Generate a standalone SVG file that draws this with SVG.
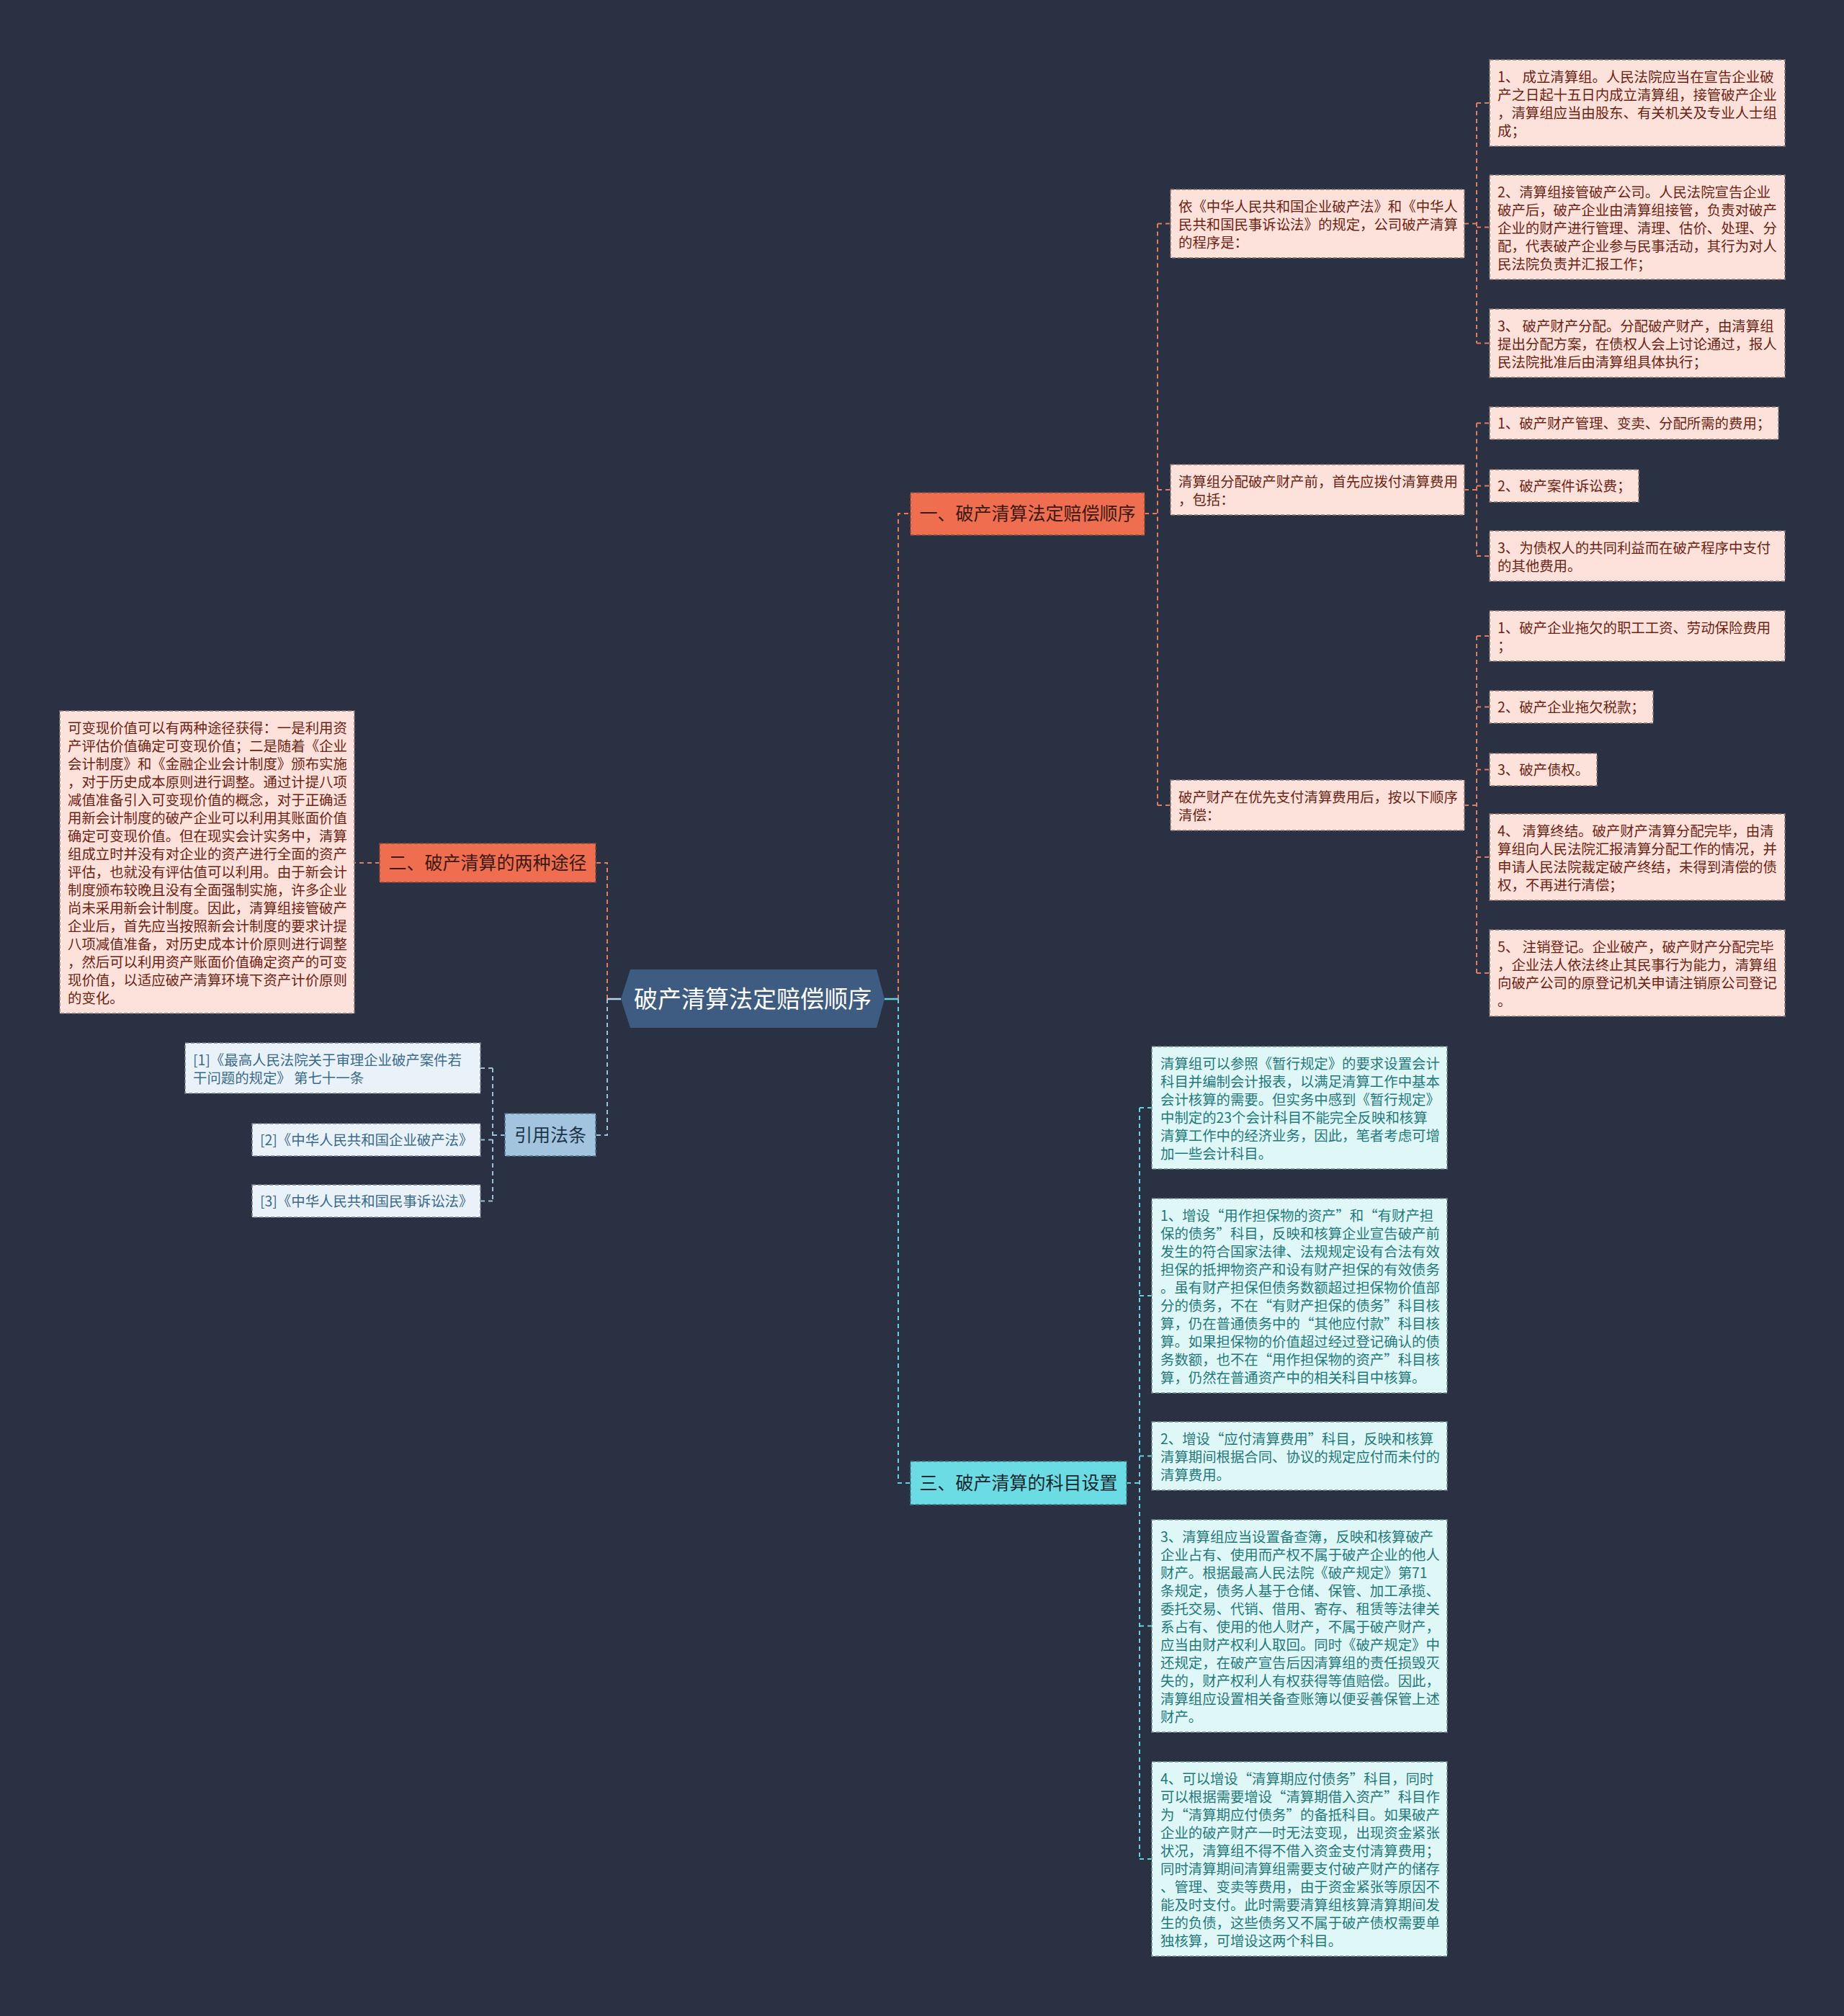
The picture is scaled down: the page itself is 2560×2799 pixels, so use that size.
<svg xmlns="http://www.w3.org/2000/svg" width="2560" height="2799" viewBox="0 0 2560 2799">
<style>
text{font-family:"Noto Sans CJK SC","Noto Sans",sans-serif}
.l{font-size:19.4px}
.pk{fill:#fde2dc;stroke:#8c7672;stroke-width:1.5;stroke-dasharray:5 3}
.cy{fill:#e0f7f8;stroke:#6f8a8c;stroke-width:1.5;stroke-dasharray:5 3}
.ct{fill:#e9f2f8;stroke:#77848e;stroke-width:1.5;stroke-dasharray:5 3}
.tp{fill:#6f2212}
.tc{fill:#1f7a7b}
.tb{fill:#3a6a8e}
.br{font-size:25px;text-anchor:middle}
.co{fill:none;stroke:#e57a5f;stroke-width:2;stroke-dasharray:6 5}
.cc{fill:none;stroke:#62d3dd;stroke-width:2;stroke-dasharray:6 5}
.cb{fill:none;stroke:#9cc0dc;stroke-width:2;stroke-dasharray:6 5}
</style>
<rect width="2560" height="2799" fill="#2a3142"/>
<g id="connectors">
<path class="co" d="M1247 1387V713H1264M1589 713H1607M1607 310.5V1118M1607 310.5H1625M1607 680H1625M1607 1118H1625"/>
<path class="co" d="M2033 310.5H2050M2050 143V476.5M2050 143H2068M2050 315.5H2068M2050 476.5H2068"/>
<path class="co" d="M2033 680H2050M2050 587.5V772M2050 587.5H2068M2050 674.5H2068M2050 772H2068"/>
<path class="co" d="M2033 1118H2050M2050 883V1351M2050 883H2068M2050 981.5H2068M2050 1068.5H2068M2050 1190H2068M2050 1351H2068"/>
<path class="cc" d="M1247 1387V2059H1264M1564 2059H1582M1582 1538V2581M1582 1538H1599M1582 1799H1599M1582 2021.5H1599M1582 2257.5H1599M1582 2581H1599"/>
<path class="co" d="M843 1387V1198H827M527 1198H492"/>
<path class="cb" d="M843 1387V1576H827M701 1576H684M684 1483V1667.5M684 1483H667M684 1582.5H667M684 1667.5H667"/>
<path d="M862 1387H843" stroke="#b8d2e6" stroke-width="2.5"/>
<path d="M1228 1387H1247" stroke="#62d3dd" stroke-width="2.5"/>
</g>
<g id="root">
<polygon points="862,1387 875,1346 1217,1346 1228,1387 1217,1427 875,1427" fill="#3e5b82"/>
<text x="1045" y="1399" font-size="33" fill="#ffffff" text-anchor="middle">破产清算法定赔偿顺序</text>
</g>
<g id="b1">
<rect x="1264" y="684" width="325" height="59" fill="#ef6e50" stroke="#8a4a3a" stroke-width="1.5" stroke-dasharray="5 3"/>
<text class="br" x="1426.5" y="722" fill="#3a1a12">一、破产清算法定赔偿顺序</text>
</g>
<g id="b2">
<rect x="527" y="1171" width="300" height="54" fill="#ef6e50" stroke="#8a4a3a" stroke-width="1.5" stroke-dasharray="5 3"/>
<text class="br" x="677" y="1207" fill="#3a1a12">二、破产清算的两种途径</text>
</g>
<g id="b3">
<rect x="1264" y="2029" width="300" height="60" fill="#6cdce4" stroke="#3f7e86" stroke-width="1.5" stroke-dasharray="5 3"/>
<text class="br" x="1414" y="2068" fill="#15282e">三、破产清算的科目设置</text>
</g>
<g id="b4">
<rect x="701" y="1546" width="126" height="59" fill="#a3c4de" stroke="#56728a" stroke-width="1.5" stroke-dasharray="5 3"/>
<text class="br" x="764" y="1585" fill="#1e3548">引用法条</text>
</g>
<g id="s1">
<rect class="pk" x="1625" y="263" width="408" height="95"/>
<text class="l tp" x="1636" y="294"><tspan x="1636">依《中华人民共和国企业破产法》和《中华人</tspan><tspan x="1636" dy="25">民共和国民事诉讼法》的规定，公司破产清算</tspan><tspan x="1636" dy="25">的程序是：</tspan></text>
</g>
<g id="s2">
<rect class="pk" x="1625" y="645" width="408" height="70"/>
<text class="l tp" x="1636" y="676"><tspan x="1636">清算组分配破产财产前，首先应拨付清算费用</tspan><tspan x="1636" dy="25">，包括：</tspan></text>
</g>
<g id="s3">
<rect class="pk" x="1625" y="1083" width="408" height="70"/>
<text class="l tp" x="1636" y="1114"><tspan x="1636">破产财产在优先支付清算费用后，按以下顺序</tspan><tspan x="1636" dy="25">清偿：</tspan></text>
</g>
<g id="l1">
<rect class="pk" x="2068" y="83" width="410" height="120"/>
<text class="l tp" y="114"><tspan x="2079">1、 成立清算组。人民法院应当在宣告企业破</tspan><tspan x="2079" dy="25">产之日起十五日内成立清算组，接管破产企业</tspan><tspan x="2079" dy="25">，清算组应当由股东、有关机关及专业人士组</tspan><tspan x="2079" dy="25">成；</tspan></text>
</g>
<g id="l2">
<rect class="pk" x="2068" y="243" width="410" height="145"/>
<text class="l tp" y="274"><tspan x="2079">2、清算组接管破产公司。人民法院宣告企业</tspan><tspan x="2079" dy="25">破产后，破产企业由清算组接管，负责对破产</tspan><tspan x="2079" dy="25">企业的财产进行管理、清理、估价、处理、分</tspan><tspan x="2079" dy="25">配，代表破产企业参与民事活动，其行为对人</tspan><tspan x="2079" dy="25">民法院负责并汇报工作；</tspan></text>
</g>
<g id="l3">
<rect class="pk" x="2068" y="429" width="410" height="95"/>
<text class="l tp" y="460"><tspan x="2079">3、 破产财产分配。分配破产财产，由清算组</tspan><tspan x="2079" dy="25">提出分配方案，在债权人会上讨论通过，报人</tspan><tspan x="2079" dy="25">民法院批准后由清算组具体执行；</tspan></text>
</g>
<g id="l4">
<rect class="pk" x="2068" y="565" width="401" height="45"/>
<text class="l tp" x="2079" y="595">1、破产财产管理、变卖、分配所需的费用；</text>
</g>
<g id="l5">
<rect class="pk" x="2068" y="652" width="207" height="45"/>
<text class="l tp" x="2079" y="682">2、破产案件诉讼费；</text>
</g>
<g id="l6">
<rect class="pk" x="2068" y="737" width="410" height="70"/>
<text class="l tp" y="768"><tspan x="2079">3、为债权人的共同利益而在破产程序中支付</tspan><tspan x="2079" dy="25">的其他费用。</tspan></text>
</g>
<g id="l7">
<rect class="pk" x="2068" y="848" width="410" height="70"/>
<text class="l tp" y="879"><tspan x="2079">1、破产企业拖欠的职工工资、劳动保险费用</tspan><tspan x="2079" dy="25">；</tspan></text>
</g>
<g id="l8">
<rect class="pk" x="2068" y="959" width="227" height="45"/>
<text class="l tp" x="2079" y="989">2、破产企业拖欠税款；</text>
</g>
<g id="l9">
<rect class="pk" x="2068" y="1046" width="149" height="45"/>
<text class="l tp" x="2079" y="1076">3、破产债权。</text>
</g>
<g id="l10">
<rect class="pk" x="2068" y="1130" width="410" height="120"/>
<text class="l tp" y="1161"><tspan x="2079">4、 清算终结。破产财产清算分配完毕，由清</tspan><tspan x="2079" dy="25">算组向人民法院汇报清算分配工作的情况，并</tspan><tspan x="2079" dy="25">申请人民法院裁定破产终结，未得到清偿的债</tspan><tspan x="2079" dy="25">权，不再进行清偿；</tspan></text>
</g>
<g id="l11">
<rect class="pk" x="2068" y="1291" width="410" height="120"/>
<text class="l tp" y="1322"><tspan x="2079">5、 注销登记。企业破产，破产财产分配完毕</tspan><tspan x="2079" dy="25">，企业法人依法终止其民事行为能力，清算组</tspan><tspan x="2079" dy="25">向破产公司的原登记机关申请注销原公司登记</tspan><tspan x="2079" dy="25">。</tspan></text>
</g>
<g id="left-text">
<rect class="pk" x="83" y="987" width="409" height="420"/>
<text class="l tp" y="1018"><tspan x="94">可变现价值可以有两种途径获得：一是利用资</tspan><tspan x="94" dy="25">产评估价值确定可变现价值；二是随着《企业</tspan><tspan x="94" dy="25">会计制度》和《金融企业会计制度》颁布实施</tspan><tspan x="94" dy="25">，对于历史成本原则进行调整。通过计提八项</tspan><tspan x="94" dy="25">减值准备引入可变现价值的概念，对于正确适</tspan><tspan x="94" dy="25">用新会计制度的破产企业可以利用其账面价值</tspan><tspan x="94" dy="25">确定可变现价值。但在现实会计实务中，清算</tspan><tspan x="94" dy="25">组成立时并没有对企业的资产进行全面的资产</tspan><tspan x="94" dy="25">评估，也就没有评估值可以利用。由于新会计</tspan><tspan x="94" dy="25">制度颁布较晚且没有全面强制实施，许多企业</tspan><tspan x="94" dy="25">尚未采用新会计制度。因此，清算组接管破产</tspan><tspan x="94" dy="25">企业后，首先应当按照新会计制度的要求计提</tspan><tspan x="94" dy="25">八项减值准备，对历史成本计价原则进行调整</tspan><tspan x="94" dy="25">，然后可以利用资产账面价值确定资产的可变</tspan><tspan x="94" dy="25">现价值，以适应破产清算环境下资产计价原则</tspan><tspan x="94" dy="25">的变化。</tspan></text>
</g>
<g id="c1">
<rect class="ct" x="257" y="1448" width="410" height="70"/>
<text class="l tb" y="1479"><tspan x="268">[1]《最高人民法院关于审理企业破产案件若</tspan><tspan x="268" dy="25">干问题的规定》 第七十一条</tspan></text>
</g>
<g id="c2">
<rect class="ct" x="350" y="1560" width="317" height="45"/>
<text class="l tb" x="361" y="1590">[2]《中华人民共和国企业破产法》</text>
</g>
<g id="c3">
<rect class="ct" x="350" y="1645" width="317" height="45"/>
<text class="l tb" x="361" y="1675">[3]《中华人民共和国民事诉讼法》</text>
</g>
<g id="k1">
<rect class="cy" x="1599" y="1453" width="410" height="170"/>
<text class="l tc" y="1484"><tspan x="1611">清算组可以参照《暂行规定》的要求设置会计</tspan><tspan x="1611" dy="25">科目并编制会计报表，以满足清算工作中基本</tspan><tspan x="1611" dy="25">会计核算的需要。但实务中感到《暂行规定》</tspan><tspan x="1611" dy="25">中制定的23个会计科目不能完全反映和核算</tspan><tspan x="1611" dy="25">清算工作中的经济业务，因此，笔者考虑可增</tspan><tspan x="1611" dy="25">加一些会计科目。</tspan></text>
</g>
<g id="k2">
<rect class="cy" x="1599" y="1664" width="410" height="270"/>
<text class="l tc" y="1695"><tspan x="1611">1、增设“用作担保物的资产”和“有财产担</tspan><tspan x="1611" dy="25">保的债务”科目，反映和核算企业宣告破产前</tspan><tspan x="1611" dy="25">发生的符合国家法律、法规规定设有合法有效</tspan><tspan x="1611" dy="25">担保的抵押物资产和设有财产担保的有效债务</tspan><tspan x="1611" dy="25">。虽有财产担保但债务数额超过担保物价值部</tspan><tspan x="1611" dy="25">分的债务，不在“有财产担保的债务”科目核</tspan><tspan x="1611" dy="25">算，仍在普通债务中的“其他应付款”科目核</tspan><tspan x="1611" dy="25">算。如果担保物的价值超过经过登记确认的债</tspan><tspan x="1611" dy="25">务数额，也不在“用作担保物的资产”科目核</tspan><tspan x="1611" dy="25">算，仍然在普通资产中的相关科目中核算。</tspan></text>
</g>
<g id="k3">
<rect class="cy" x="1599" y="1974" width="410" height="95"/>
<text class="l tc" y="2005"><tspan x="1611">2、增设“应付清算费用”科目，反映和核算</tspan><tspan x="1611" dy="25">清算期间根据合同、协议的规定应付而未付的</tspan><tspan x="1611" dy="25">清算费用。</tspan></text>
</g>
<g id="k4">
<rect class="cy" x="1599" y="2110" width="410" height="295"/>
<text class="l tc" y="2141"><tspan x="1611">3、清算组应当设置备查簿，反映和核算破产</tspan><tspan x="1611" dy="25">企业占有、使用而产权不属于破产企业的他人</tspan><tspan x="1611" dy="25">财产。根据最高人民法院《破产规定》第71</tspan><tspan x="1611" dy="25">条规定，债务人基于仓储、保管、加工承揽、</tspan><tspan x="1611" dy="25">委托交易、代销、借用、寄存、租赁等法律关</tspan><tspan x="1611" dy="25">系占有、使用的他人财产，不属于破产财产，</tspan><tspan x="1611" dy="25">应当由财产权利人取回。同时《破产规定》中</tspan><tspan x="1611" dy="25">还规定，在破产宣告后因清算组的责任损毁灭</tspan><tspan x="1611" dy="25">失的，财产权利人有权获得等值赔偿。因此，</tspan><tspan x="1611" dy="25">清算组应设置相关备查账簿以便妥善保管上述</tspan><tspan x="1611" dy="25">财产。</tspan></text>
</g>
<g id="k5">
<rect class="cy" x="1599" y="2446" width="410" height="270"/>
<text class="l tc" y="2477"><tspan x="1611">4、可以增设“清算期应付债务”科目，同时</tspan><tspan x="1611" dy="25">可以根据需要增设“清算期借入资产”科目作</tspan><tspan x="1611" dy="25">为“清算期应付债务”的备抵科目。如果破产</tspan><tspan x="1611" dy="25">企业的破产财产一时无法变现，出现资金紧张</tspan><tspan x="1611" dy="25">状况，清算组不得不借入资金支付清算费用；</tspan><tspan x="1611" dy="25">同时清算期间清算组需要支付破产财产的储存</tspan><tspan x="1611" dy="25">、管理、变卖等费用，由于资金紧张等原因不</tspan><tspan x="1611" dy="25">能及时支付。此时需要清算组核算清算期间发</tspan><tspan x="1611" dy="25">生的负债，这些债务又不属于破产债权需要单</tspan><tspan x="1611" dy="25">独核算，可增设这两个科目。</tspan></text>
</g>
</svg>
